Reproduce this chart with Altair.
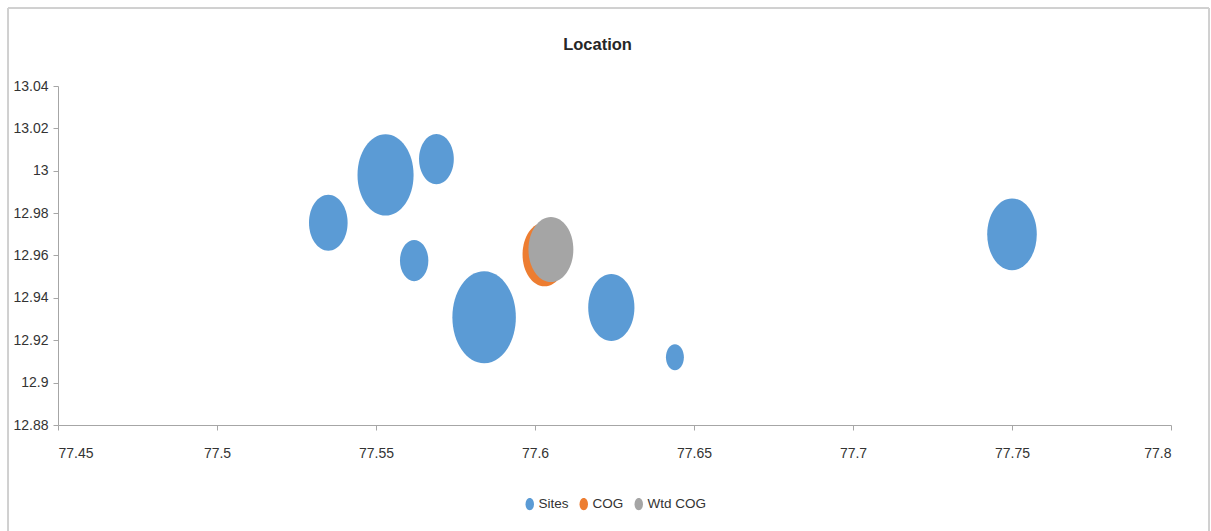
import altair as alt
import pandas as pd

# Data
series = ["Sites"] * 8 + ["COG", "Wtd COG"]
lon = [77.535, 77.553, 77.569, 77.562, 77.584, 77.624, 77.644, 77.750, 77.603, 77.605]
lat = [12.9755, 12.998, 13.0055, 12.9576, 12.9308, 12.9355, 12.912, 12.970, 12.9605, 12.9628]
weight = [37, 78, 30, 20, 100, 53, 8, 61, 48, 50]

x_ticks = [77.45, 77.5, 77.55, 77.6, 77.65, 77.7, 77.75, 77.8]
y_ticks = [12.88, 12.9, 12.92, 12.94, 12.96, 12.98, 13.0, 13.02, 13.04]

df = pd.DataFrame({"series": series, "lon": lon, "lat": lat, "weight": weight,
                   "idx": list(range(len(series)))})

FONT = "Liberation Sans Narrow, Liberation Sans, sans-serif"
ELLIPSE = ("M0,-1C0.381,-1,0.69,-0.552,0.69,0C0.69,0.552,0.381,1,0,1"
           "C-0.381,1,-0.69,0.552,-0.69,0C-0.69,-0.552,-0.381,-1,0,-1Z")

axis_style = dict(grid=False, domainColor="#A6A6A6", tickColor="#A6A6A6", tickSize=5,
                  labelFont=FONT, labelFontSize=14, labelColor="#333333", title=None)

bubbles = alt.Chart(df).mark_point(filled=True, opacity=1, shape=ELLIPSE, strokeWidth=0).encode(
    x=alt.X("lon:Q", scale=alt.Scale(domain=[77.45, 77.8], nice=False, zero=False),
            axis=alt.Axis(values=x_ticks, format=".4~g", labelPadding=16, **axis_style)),
    y=alt.Y("lat:Q", scale=alt.Scale(domain=[12.88, 13.04], nice=False, zero=False),
            axis=alt.Axis(values=y_ticks, format=".4~g", labelPadding=5, **axis_style)),
    size=alt.Size("weight:Q", scale=alt.Scale(domain=[0, 100], range=[0, 8464]), legend=None),
    color=alt.Color("series:N",
                    scale=alt.Scale(domain=["Sites", "COG", "Wtd COG"],
                                    range=["#5B9BD5", "#ED7D31", "#A5A5A5"]),
                    legend=alt.Legend(title=None, orient="none", direction="horizontal",
                                      legendX=465, legendY=411, symbolType=ELLIPSE,
                                      symbolSize=150, labelFontSize=13.5, labelFont=FONT,
                                      labelColor="#333333", columnPadding=8,
                                      labelOffset=2, padding=0, symbolStrokeWidth=0)),
    order=alt.Order("idx:Q"),
)

frame = alt.Chart(df).mark_rect(fill=None, stroke="#D0D0D0", strokeWidth=1).encode(
    x=alt.value(-50), x2=alt.value(1151), y=alt.value(-78), y2=alt.value(460)
)

chart = alt.layer(frame, bubbles).properties(
    width=1113, height=339,
    autosize=alt.AutoSizeParams(type="none"),
    padding={"left": 58, "top": 86, "right": 40, "bottom": 106},
    background="white",
    title=alt.Title("Location", font=FONT, fontSize=16.5, fontWeight="bold",
                    color="#262626", anchor="middle", dx=-17, offset=-59,
                    baseline="alphabetic"),
).configure_view(stroke=None)

chart.save("out.html", embed_options={"renderer": "svg", "actions": False})
